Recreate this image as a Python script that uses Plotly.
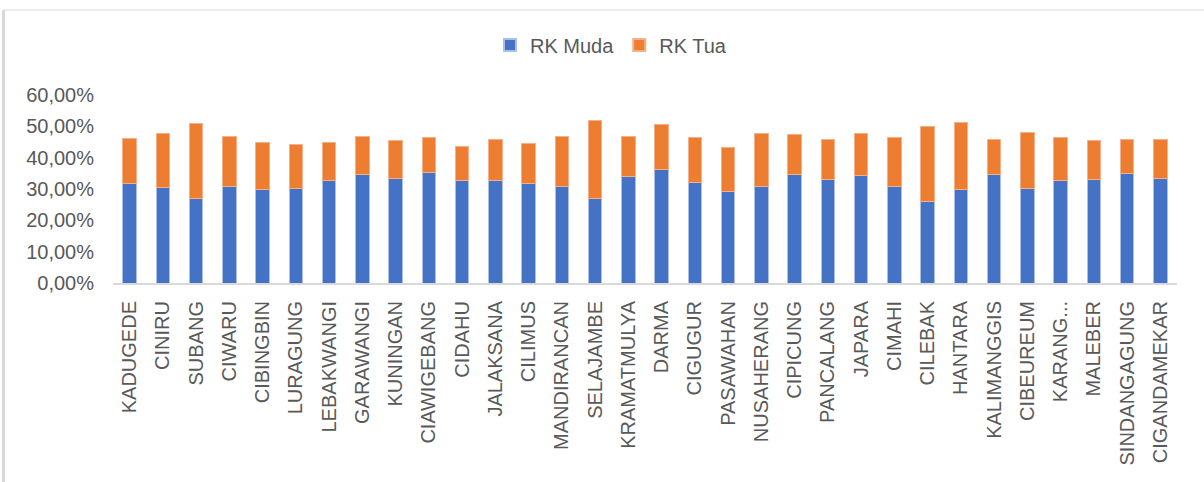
import plotly.graph_objects as go

categories = ["KADUGEDE", "CINIRU", "SUBANG", "CIWARU", "CIBINGBIN", "LURAGUNG", "LEBAKWANGI",
              "GARAWANGI", "KUNINGAN", "CIAWIGEBANG", "CIDAHU", "JALAKSANA", "CILIMUS",
              "MANDIRANCAN", "SELAJAMBE", "KRAMATMULYA", "DARMA", "CIGUGUR", "PASAWAHAN",
              "NUSAHERANG", "CIPICUNG", "PANCALANG", "JAPARA", "CIMAHI", "CILEBAK", "HANTARA",
              "KALIMANGGIS", "CIBEUREUM", "KARANG...", "MALEBER", "SINDANGAGUNG", "CIGANDAMEKAR"]

rk_muda = [31.6, 30.6, 27.0, 30.9, 29.7, 30.3, 32.7, 34.6, 33.5, 35.3, 32.7, 32.6, 31.8,
           30.8, 26.9, 34.0, 36.3, 32.1, 29.2, 30.8, 34.6, 32.9, 34.2, 30.8, 26.0, 30.0,
           34.6, 30.2, 32.7, 33.1, 35.0, 33.5]
total = [46.0, 47.6, 50.9, 46.7, 44.7, 44.1, 44.9, 46.7, 45.4, 46.3, 43.6, 45.8, 44.5,
         46.6, 51.8, 46.6, 50.6, 46.3, 43.4, 47.7, 47.4, 45.8, 47.6, 46.3, 50.1, 51.1,
         45.8, 47.9, 46.3, 45.4, 45.7, 45.9]
rk_tua = [round(t - m, 1) for t, m in zip(total, rk_muda)]

muda_frac = [v / 100 for v in rk_muda]
tua_frac = [v / 100 for v in rk_tua]

ML, MR, MT, MB = 113, 27, 95, 199
W, H = 1204, 482
pw, ph = W - ML - MR, H - MT - MB

fig = go.Figure()
fig.add_trace(go.Bar(x=categories, y=muda_frac, name="RK Muda",
                     marker=dict(color="#4472C4", line=dict(color="#A9BFE6", width=1))))
fig.add_trace(go.Bar(x=categories, y=tua_frac, name="RK Tua",
                     marker=dict(color="#ED7D31", line=dict(color="#F5B08A", width=1))))

def px_x(p):
    return (p - ML) / pw

def px_y(p):
    return (H - MB - p) / ph

fig.update_layout(
    barmode="stack",
    bargap=0.6,
    width=W, height=H,
    margin=dict(l=ML, r=MR, t=MT, b=MB),
    paper_bgcolor="white",
    plot_bgcolor="white",
    separators=",.",
    font=dict(family="Liberation Sans, Arial, sans-serif", size=20, color="#595959"),
    legend=dict(orientation="h", x=px_x(490), xanchor="left", y=px_y(45), yanchor="middle",
                font=dict(size=20, color="#595959"), traceorder="normal",
                itemsizing="constant", bgcolor="rgba(0,0,0,0)"),
    xaxis=dict(tickangle=-90, showline=True, linecolor="#D9D9D9", linewidth=2,
               ticks="", tickfont=dict(size=20, color="#595959"), ticklabelstandoff=8),
    yaxis=dict(range=[0, 0.6], tickvals=[0, 0.1, 0.2, 0.3, 0.4, 0.5, 0.6],
               tickformat=".2%", showgrid=False, zeroline=False, showline=False,
               tickfont=dict(size=20, color="#595959"), ticklabelstandoff=18),
    shapes=[
        dict(type="line", xref="paper", yref="paper", x0=px_x(3.5), x1=px_x(1204),
             y0=px_y(10), y1=px_y(10), line=dict(color="#D9D9D9", width=1)),
        dict(type="line", xref="paper", yref="paper", x0=px_x(3.5), x1=px_x(3.5),
             y0=px_y(10), y1=px_y(482), line=dict(color="#D9D9D9", width=3)),
    ],
)

fig.write_html("out.html", config={"displayModeBar": False},
               post_script="document.body.style.margin='0';document.documentElement.style.overflow='hidden';")
